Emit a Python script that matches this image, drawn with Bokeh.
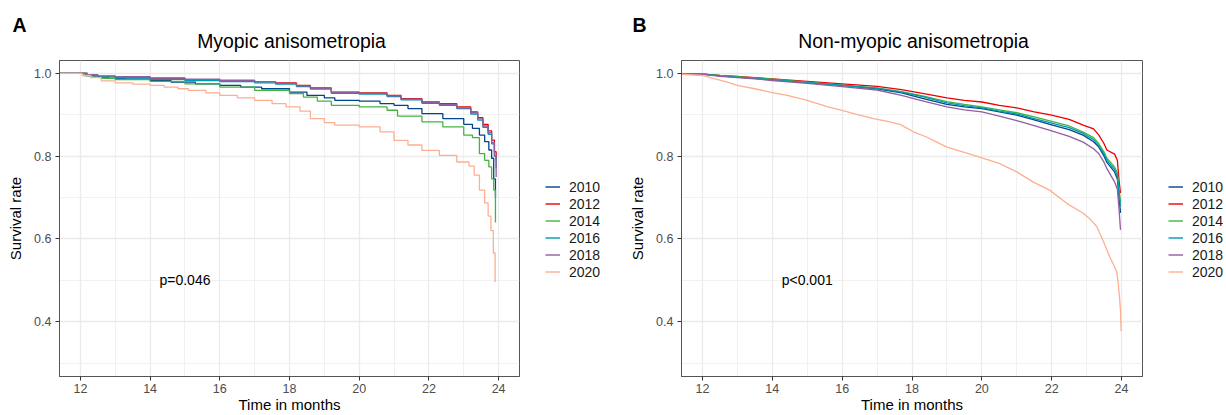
from bokeh.plotting import figure
from bokeh.models import FixedTicker, PrintfTickFormatter, Legend, LegendItem, Range1d
from bokeh.layouts import row, column
from bokeh.embed import file_html
from bokeh.resources import INLINE
from bokeh.core.properties import value

FONT = "Liberation Sans"
YEARS = ["2010", "2012", "2014", "2016", "2018", "2020"]
COLORS = ["#00468B", "#ED0000", "#42B540", "#0099B4", "#925E9F", "#FDAF91"]
X_TICKS = [12, 14, 16, 18, 20, 22, 24]
X_MINOR = [13, 15, 17, 19, 21, 23]
Y_TICKS = [0.4, 0.6, 0.8, 1.0]
Y_MINOR = [0.3, 0.5, 0.7, 0.9]
TITLES = ["Myopic anisometropia", "Non-myopic anisometropia"]
LETTERS = ["A", "B"]
PVALS = ["p=0.046", "p<0.001"]

# ---- Panel A: Myopic anisometropia ----
A_T_2010 = [11.0, 12.15, 12.4, 12.8, 13.3, 14.0, 14.6, 15.3, 16.0, 16.6, 17.2, 18.0, 18.5, 19.0, 19.3, 20.0, 20.6, 21.0, 21.4, 21.8, 22.4, 23.0, 23.25, 23.45, 23.6, 23.72, 23.8, 23.86, 23.91]
A_S_2010 = [1.0, 0.995, 0.991, 0.988, 0.986, 0.983, 0.979, 0.975, 0.971, 0.967, 0.963, 0.955, 0.947, 0.941, 0.935, 0.933, 0.927, 0.923, 0.915, 0.903, 0.891, 0.877, 0.867, 0.851, 0.835, 0.815, 0.795, 0.745, 0.70]

A_T_UP = [11.0, 12.2, 12.5, 13.0, 14.0, 15.0, 16.0, 17.0, 17.6, 18.2, 18.6, 19.2, 20.0, 20.8, 21.2, 21.8, 22.3, 22.8, 23.2, 23.4, 23.55, 23.7, 23.8, 23.88, 23.93]
A_S_2012 = [1.0, 0.996, 0.993, 0.991, 0.988, 0.985, 0.983, 0.980, 0.977, 0.971, 0.965, 0.955, 0.953, 0.947, 0.939, 0.931, 0.927, 0.919, 0.907, 0.893, 0.877, 0.861, 0.839, 0.811, 0.79]
A_S_2016 = [1.0, 0.995, 0.992, 0.989, 0.986, 0.983, 0.980, 0.977, 0.974, 0.968, 0.962, 0.952, 0.950, 0.944, 0.936, 0.928, 0.923, 0.915, 0.902, 0.887, 0.870, 0.853, 0.830, 0.800, 0.77]
A_S_2018 = [1.0, 0.997, 0.994, 0.992, 0.989, 0.986, 0.983, 0.980, 0.976, 0.970, 0.964, 0.954, 0.952, 0.946, 0.938, 0.930, 0.925, 0.917, 0.905, 0.890, 0.873, 0.857, 0.833, 0.80, 0.75]

A_T_2014 = [11.0, 12.1, 12.3, 12.6, 13.0, 14.0, 15.0, 16.0, 17.0, 18.0, 18.4, 18.8, 19.2, 20.0, 20.8, 21.1, 21.8, 22.4, 23.0, 23.25, 23.45, 23.6, 23.72, 23.8, 23.86, 23.91]
A_S_2014 = [1.0, 0.995, 0.991, 0.988, 0.985, 0.981, 0.975, 0.967, 0.959, 0.951, 0.943, 0.933, 0.923, 0.919, 0.911, 0.897, 0.883, 0.871, 0.851, 0.845, 0.806, 0.790, 0.774, 0.745, 0.718, 0.64]

A_T_2020 = [11.0, 12.05, 12.3, 12.6, 13.0, 13.5, 14.0, 14.4, 14.8, 15.1, 15.6, 16.0, 16.5, 17.0, 17.5, 17.9, 18.3, 18.6, 19.0, 19.3, 20.0, 20.6, 21.0, 21.4, 21.8, 22.3, 22.8, 23.15, 23.3, 23.45, 23.6, 23.7, 23.78, 23.85, 23.9]
A_S_2020 = [1.0, 0.995, 0.990, 0.982, 0.977, 0.974, 0.971, 0.967, 0.963, 0.959, 0.953, 0.947, 0.941, 0.935, 0.927, 0.919, 0.909, 0.891, 0.881, 0.875, 0.871, 0.859, 0.838, 0.827, 0.814, 0.802, 0.786, 0.776, 0.754, 0.718, 0.687, 0.655, 0.620, 0.566, 0.496]

# ---- Panel B: Non-myopic anisometropia ----
B_T = [11.0, 12.1, 12.5, 13.0, 13.5, 14.0, 15.0, 16.0, 17.0, 17.7, 18.3, 19.0, 19.5, 20.0, 20.5, 21.0, 21.5, 22.0, 22.5, 22.9, 23.2, 23.35, 23.5, 23.58, 23.8, 23.88, 23.93, 23.97]
B_S_2010 = [1.0, 0.998, 0.994, 0.991, 0.988, 0.985, 0.978, 0.971, 0.963, 0.953, 0.940, 0.925, 0.919, 0.915, 0.907, 0.899, 0.888, 0.876, 0.864, 0.851, 0.835, 0.822, 0.800, 0.785, 0.762, 0.745, 0.70, 0.663]
B_S_2012 = [1.0, 0.998, 0.995, 0.993, 0.990, 0.987, 0.981, 0.975, 0.969, 0.961, 0.952, 0.941, 0.935, 0.931, 0.923, 0.917, 0.907, 0.899, 0.889, 0.875, 0.866, 0.851, 0.830, 0.815, 0.805, 0.790, 0.740, 0.711]
B_S_2014 = [1.0, 0.998, 0.995, 0.992, 0.989, 0.986, 0.979, 0.972, 0.965, 0.956, 0.946, 0.932, 0.925, 0.919, 0.912, 0.905, 0.895, 0.884, 0.873, 0.858, 0.845, 0.830, 0.810, 0.795, 0.774, 0.760, 0.720, 0.690]
B_S_2016 = [1.0, 0.998, 0.994, 0.991, 0.988, 0.985, 0.978, 0.971, 0.964, 0.955, 0.944, 0.929, 0.922, 0.917, 0.909, 0.902, 0.891, 0.880, 0.869, 0.855, 0.840, 0.825, 0.805, 0.790, 0.768, 0.752, 0.710, 0.680]
B_S_2018 = [1.0, 0.997, 0.993, 0.990, 0.987, 0.983, 0.976, 0.968, 0.960, 0.947, 0.934, 0.919, 0.912, 0.907, 0.897, 0.886, 0.874, 0.861, 0.848, 0.834, 0.818, 0.806, 0.785, 0.770, 0.738, 0.720, 0.67, 0.622]
B_T_2020 = [11.0, 12.02, 12.23, 12.5, 12.71, 13.0, 13.5, 13.94, 14.43, 15.0, 15.57, 16.0, 16.33, 16.9, 17.3, 17.66, 18.04, 18.4, 18.71, 19.0, 19.5, 19.94, 20.51, 21.0, 21.46, 21.94, 22.43, 22.9, 23.1, 23.29, 23.46, 23.56, 23.66, 23.76, 23.86, 23.9, 23.94, 23.97, 23.99]
B_S_2020 = [1.0, 0.995, 0.990, 0.984, 0.979, 0.971, 0.963, 0.955, 0.947, 0.935, 0.920, 0.911, 0.903, 0.891, 0.884, 0.877, 0.859, 0.847, 0.834, 0.822, 0.809, 0.798, 0.782, 0.762, 0.738, 0.718, 0.686, 0.662, 0.648, 0.630, 0.598, 0.578, 0.557, 0.540, 0.521, 0.497, 0.461, 0.425, 0.377]

A_SERIES = [(A_T_2010, A_S_2010), (A_T_UP, A_S_2012), (A_T_2014, A_S_2014),
            (A_T_UP, A_S_2016), (A_T_UP, A_S_2018), (A_T_2020, A_S_2020)]
B_SERIES = [(B_T, B_S_2010), (B_T, B_S_2012), (B_T, B_S_2014),
            (B_T, B_S_2016), (B_T, B_S_2018), (B_T_2020, B_S_2020)]

HEADER_H = 60
PLOT_H = 355


def header():
    # Strip above the two panels holding the panel letters and titles (pixel coordinates).
    h = figure(width=1226, height=HEADER_H, x_range=Range1d(0, 1226), y_range=Range1d(HEADER_H, 0),
               output_backend="svg", toolbar_location=None,
               min_border_left=0, min_border_right=0, min_border_top=0, min_border_bottom=0)
    h.axis.visible = False
    h.grid.visible = False
    h.outline_line_color = None
    h.background_fill_color = "white"
    h.border_fill_color = "white"
    h.text(x=[12, 632], y=[24, 24], text=LETTERS, text_align="left", text_baseline="alphabetic",
           text_font=value(FONT), text_font_size="19.5px", text_font_style="bold", text_color="#000000")
    h.text(x=[291, 913], y=[40.5, 40.5], text=TITLES, text_align="center", text_baseline="alphabetic",
           text_font=value(FONT), text_font_size="19.4px", text_color="#000000")
    return h


def panel(series, pval, width, bl, br, stepped):
    p = figure(width=width, height=PLOT_H, x_range=(11.4, 24.6), y_range=(0.2675, 1.0313),
               output_backend="svg", toolbar_location=None,
               min_border_left=bl, min_border_right=br, min_border_top=0, min_border_bottom=38)

    p.xaxis.ticker = FixedTicker(ticks=X_TICKS, minor_ticks=X_MINOR)
    p.yaxis.ticker = FixedTicker(ticks=Y_TICKS, minor_ticks=Y_MINOR)
    p.yaxis.formatter = PrintfTickFormatter(format="%.1f")
    for ax in (p.xaxis, p.yaxis):
        ax.major_tick_out = 4
        ax.major_tick_in = 0
        ax.minor_tick_out = 0
        ax.minor_tick_in = 0
        ax.major_tick_line_color = "#333333"
        ax.axis_line_color = "#555555"
        ax.major_label_text_font = FONT
        ax.major_label_text_font_size = "12.5px"
        ax.major_label_text_color = "#4D4D4D"
        ax.axis_label_text_font = FONT
        ax.axis_label_text_font_size = "15px"
        ax.axis_label_text_font_style = "normal"
        ax.axis_label_text_color = "#000000"
    p.yaxis.major_label_standoff = 4
    p.yaxis.axis_label = "Survival rate"
    p.yaxis.axis_label_standoff = 7
    p.xaxis.major_label_standoff = 3
    p.xaxis.axis_label = "Time in months"
    p.xaxis.axis_label_standoff = 0

    for g in (p.xgrid, p.ygrid):
        g.grid_line_color = "#EBEBEB"
        g.grid_line_width = 1.3
        g.minor_grid_line_color = "#EEEEEE"
        g.minor_grid_line_width = 0.8
    p.outline_line_color = "#555555"
    p.outline_line_width = 1
    p.background_fill_color = "white"
    p.border_fill_color = "white"

    for (t, s), c in zip(series, COLORS):
        if stepped:
            p.step(t, s, mode="after", line_color=c, line_width=1.3)
        else:
            p.line(t, s, line_color=c, line_width=1.3)

    p.text(x=[15], y=[0.5], text=[pval], text_align="center", text_baseline="middle",
           text_font=value(FONT), text_font_size="14px", text_color="#000000")
    return p


def legend_fig(width, vx, series):
    # Legend-only figure: its renderers reuse the series but lie outside its view range.
    q = figure(width=width, height=PLOT_H, x_range=(0, 1), y_range=(0, 1),
               output_backend="svg", toolbar_location=None,
               min_border_left=0, min_border_right=0, min_border_top=0, min_border_bottom=0)
    q.axis.visible = False
    q.grid.visible = False
    q.outline_line_color = None
    q.border_fill_color = "white"
    q.background_fill_color = "white"
    items = []
    for (t, s), yr, c in zip(series, YEARS, COLORS):
        r = q.line(t, s, line_color=c, line_width=1.4)
        items.append(LegendItem(label=yr, renderers=[r]))
    leg = Legend(items=items, location=(vx, 96), border_line_color=None,
                 background_fill_alpha=0, padding=0, margin=0, spacing=0,
                 label_height=17, glyph_height=17, glyph_width=15, label_standoff=9,
                 label_text_font=FONT, label_text_font_size="14px", label_text_color="#1A1A1A")
    q.add_layout(leg)
    return q


pa = panel(A_SERIES, PVALS[0], 530, 59, 11, True)
la = legend_fig(90, 15, A_SERIES)
pb = panel(B_SERIES, PVALS[1], 530, 61, 8, False)
lb = legend_fig(76, 18, B_SERIES)

layout = column(header(), row(pa, la, pb, lb))
open("out.html", "w").write(file_html(layout, INLINE))
